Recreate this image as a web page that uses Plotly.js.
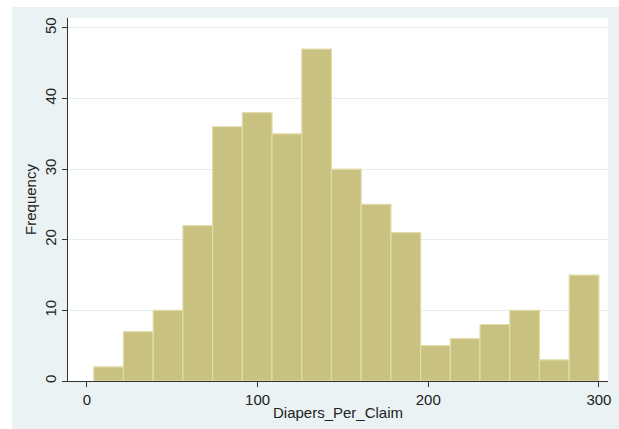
<!DOCTYPE html>
<html>
<head>
<meta charset="utf-8">
<script src="https://cdn.plot.ly/plotly-3.0.1.min.js"></script>
<style>
  html, body { margin: 0; padding: 0; background: #ffffff; }
  #chart { position: absolute; left: 12px; top: 7px; width: 607px; height: 422px; }
</style>
</head>
<body>
<div id="chart"></div>
<script>
// Histogram of Diapers_Per_Claim (17 bins)
const binMin = 4;
const binWidth = 17.41;
const frequencies = [2, 7, 10, 22, 36, 38, 35, 47, 30, 25, 21, 5, 6, 8, 10, 3, 15];
const xTickVals = [0, 100, 200, 300];
const xTickText = ["0", "100", "200", "300"];
const yTickVals = [0, 10, 20, 30, 40, 50];
const yTickText = ["0", "10", "20", "30", "40", "50"];
const xTitle = "Diapers_Per_Claim";
const yTitle = "Frequency";

const binLeft = frequencies.map((_, i) => binMin + i * binWidth);

const trace = {
  type: "bar",
  x: binLeft,
  y: frequencies,
  width: binWidth,
  offset: 0,
  marker: { color: "rgb(201,193,127)", line: { color: "rgb(226,220,172)", width: 1.2 } },
  hoverinfo: "x+y"
};

const fontFam = "Liberation Sans, Arial, sans-serif";
const layout = {
  width: 607, height: 422,
  margin: { l: 56, r: 10.5, t: 10.5, b: 48 },
  paper_bgcolor: "#eaf2f3",
  plot_bgcolor: "#ffffff",
  showlegend: false,
  bargap: 0,
  font: { family: fontFam, size: 15, color: "#222222" },
  xaxis: {
    range: [-11.1, 305.3],
    tickvals: xTickVals, ticktext: xTickText,
    ticks: "outside", ticklen: 5, tickwidth: 1, tickcolor: "#333333",
    showline: true, linecolor: "#333333", linewidth: 1.3,
    showgrid: false, zeroline: false,
    tickfont: { family: fontFam, size: 15, color: "#222222" },
    title: { text: xTitle, font: { family: fontFam, size: 15, color: "#222222" }, standoff: 0 },
    automargin: false, fixedrange: true
  },
  yaxis: {
    range: [0, 51.4],
    tickvals: yTickVals, ticktext: yTickText,
    tickangle: -90,
    ticks: "outside", ticklen: 5, tickwidth: 1, tickcolor: "#333333",
    showline: true, linecolor: "#333333", linewidth: 1.3,
    showgrid: true, gridcolor: "#e6eef0", gridwidth: 1,
    zeroline: false,
    tickfont: { family: fontFam, size: 15, color: "#222222" },
    title: { text: yTitle, font: { family: fontFam, size: 15, color: "#222222" }, standoff: 1 },
    automargin: false, fixedrange: true
  }
};

Plotly.newPlot("chart", [trace], layout, { displayModeBar: false, staticPlot: true });
</script>
</body>
</html>
